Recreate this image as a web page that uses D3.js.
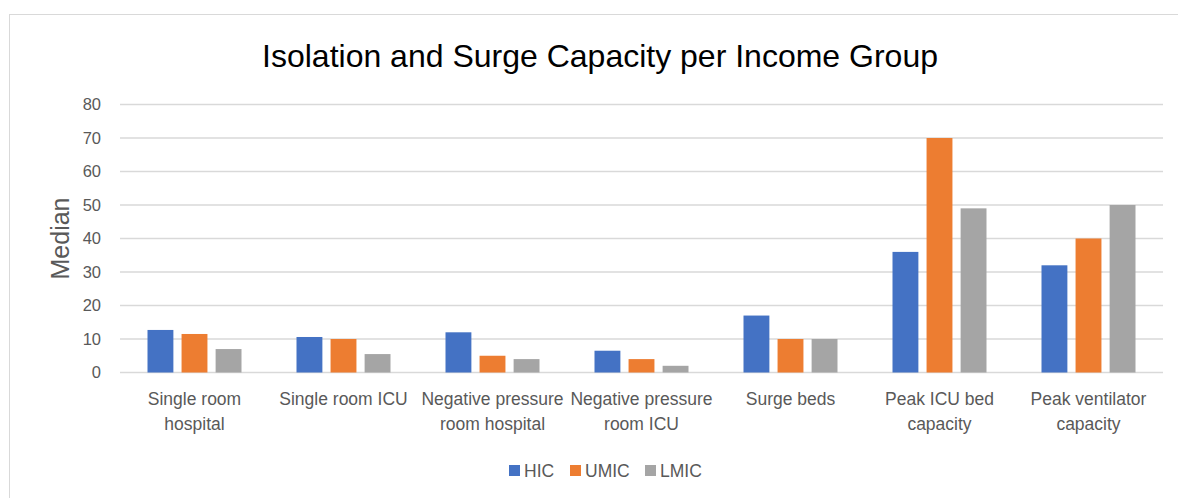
<!DOCTYPE html>
<html>
<head>
<meta charset="utf-8">
<script src="https://cdn.jsdelivr.net/npm/d3@7"></script>
<style>
  body { margin: 0; background: #fff; }
  text { font-family: "Liberation Sans", Arial, sans-serif; }
</style>
</head>
<body>
<div id="chart"></div>
<script>
// chart data
const categories = [
    ["Single room", "hospital"],
    ["Single room ICU"],
    ["Negative pressure", "room hospital"],
    ["Negative pressure", "room ICU"],
    ["Surge beds"],
    ["Peak ICU bed", "capacity"],
    ["Peak ventilator", "capacity"]
];
const seriesNames = ["HIC", "UMIC", "LMIC"];
const hicValues = [12.7, 10.6, 12, 6.5, 17, 36, 32];
const umicValues = [11.5, 10, 5, 4, 10, 70, 40];
const lmicValues = [7, 5.5, 4, 2, 10, 49, 50];
const yTicks = [0, 10, 20, 30, 40, 50, 60, 70, 80];
const colors = ["#4472c4", "#ed7d31", "#a5a5a5"];

const W = 1178, H = 498;
const margin = { top: 104.5, bottom: 125.5, left: 120, right: 15 };
const width = W - margin.left - margin.right;
const height = H - margin.top - margin.bottom;

const svgRoot = d3.select("#chart")
    .append("svg")
    .attr("width", W)
    .attr("height", H);

// chart area border
svgRoot.append("rect")
    .attr("x", 9.5).attr("y", 14.5)
    .attr("width", W - 5).attr("height", H)
    .attr("fill", "none")
    .attr("stroke", "#d9d9d9");

svgRoot.append("text")
    .attr("x", 600).attr("y", 67)
    .attr("text-anchor", "middle")
    .attr("font-size", 32)
    .attr("fill", "#000")
    .text("Isolation and Surge Capacity per Income Group");

const svg = svgRoot.append("g")
    .attr("transform", `translate(${margin.left},${margin.top})`);

const rows = categories.map((c, i) => ({
    key: i,
    values: [hicValues[i], umicValues[i], lmicValues[i]]
}));

const x = d3.scaleBand()
    .domain(rows.map(d => d.key))
    .range([0, 1043]);

const xInner = d3.scaleBand()
    .domain(seriesNames)
    .range([x.bandwidth() / 2 - 47, x.bandwidth() / 2 + 47])
    .paddingInner(0.24);

const y = d3.scaleLinear()
    .domain([0, 80])
    .range([height, 0]);

// gridlines
svg.append("g")
    .selectAll("line")
    .data(yTicks)
    .join("line")
    .attr("x1", 0)
    .attr("x2", 1043)
    .attr("y1", d => y(d))
    .attr("y2", d => y(d))
    .attr("stroke", "#d9d9d9")
    .attr("stroke-width", 1.3);

// y axis labels
const yAxis = svg.append("g")
    .call(d3.axisLeft(y).tickValues(yTicks).tickSize(0).tickPadding(19));
yAxis.select(".domain").remove();
yAxis.selectAll("text")
    .attr("font-size", 16.5)
    .attr("fill", "#595959")
    .style("font-family", "'Liberation Sans', Arial, sans-serif");

svgRoot.append("text")
    .attr("transform", `translate(69,${y(40) + margin.top}) rotate(-90)`)
    .attr("text-anchor", "middle")
    .attr("font-size", 25)
    .attr("fill", "#595959")
    .text("Median");

// bars
const groups = svg.append("g")
    .selectAll("g")
    .data(rows)
    .join("g")
    .attr("transform", d => `translate(${x(d.key)},0)`);

groups.selectAll("rect")
    .data(d => d.values.map((v, j) => ({ name: seriesNames[j], value: v, j: j })))
    .join("rect")
    .attr("x", d => xInner(d.name))
    .attr("y", d => y(d.value))
    .attr("width", xInner.bandwidth())
    .attr("height", d => height - y(d.value))
    .attr("fill", d => colors[d.j]);

// category labels
const catLabels = svg.append("g")
    .selectAll("text")
    .data(rows)
    .join("text")
    .attr("x", d => x(d.key) + x.bandwidth() / 2)
    .attr("y", height + 32)
    .attr("text-anchor", "middle")
    .attr("font-size", 17.5)
    .attr("fill", "#595959");

catLabels.selectAll("tspan")
    .data(d => categories[d.key])
    .join("tspan")
    .attr("x", function () { return d3.select(this.parentNode).attr("x"); })
    .attr("dy", (d, i) => i === 0 ? 0 : 25)
    .text(d => d);

// legend
const legendX = [509, 570, 645];
const legend = svgRoot.append("g")
    .selectAll("g")
    .data(seriesNames)
    .join("g")
    .attr("transform", (d, i) => `translate(${legendX[i]},465)`);

legend.append("rect")
    .attr("width", 11).attr("height", 11)
    .attr("fill", (d, i) => colors[i]);

legend.append("text")
    .attr("x", 15).attr("y", 12)
    .attr("font-size", 17.5)
    .attr("fill", "#595959")
    .text(d => d);
</script>
</body>
</html>
